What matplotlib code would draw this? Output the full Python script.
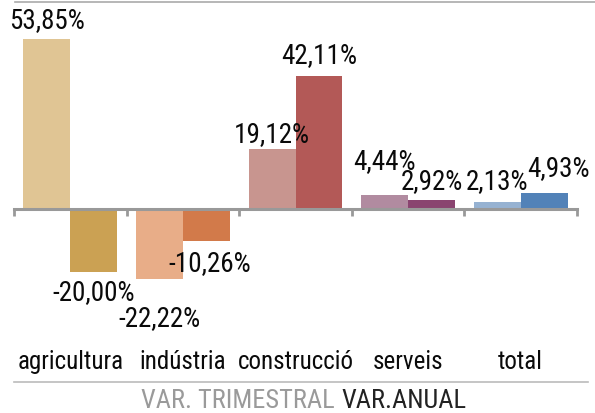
import matplotlib
matplotlib.use("Agg")
import matplotlib.pyplot as plt
from matplotlib.lines import Line2D

categories = ["agricultura", "indústria", "construcció", "serveis", "total"]
var_trimestral = [53.85, -22.22, 19.12, 4.44, 2.13]
var_anual = [-20.00, -10.26, 42.11, 2.92, 4.93]

colors_trim = ["#E0C594", "#E8AD88", "#C8958F", "#B18BA0", "#96B2D2"]
colors_anual = ["#CBA153", "#D27A4A", "#B35957", "#8A4470", "#5282B8"]

# label offsets in pixels from the end of each bar (dx, dy)
off_trim = [(0, 19), (0, -38), (0, 15), (0, 34), (0, 22)]
off_anual = [(0, -19), (3, -21), (0, 22), (0, 19), (14, 26)]

plt.rcParams["font.family"] = ["Roboto Condensed", "DejaVu Sans"]

W, H = 595, 414
fig = plt.figure(figsize=(W / 100, H / 100), dpi=100)

left, right, top, bottom = 14, 577, 3, 383
ax = fig.add_axes([left / W, 1 - bottom / H, (right - left) / W, (bottom - top) / H])

px_per_unit = 170 / 53.85
baseline = 210
ax.set_ylim(-(bottom - baseline) / px_per_unit, (baseline - top) / px_per_unit)
ax.set_xlim(-0.5, len(categories) - 0.5)

bw = 0.417
x = list(range(len(categories)))
bars_t = ax.bar([i - bw / 2 for i in x], var_trimestral, width=bw, color=colors_trim, zorder=2)
bars_a = ax.bar([i + bw / 2 for i in x], var_anual, width=bw, color=colors_anual, zorder=2)

def fmt(v):
    return f"{v:.2f}".replace(".", ",") + "%"

for bars, vals, offs in ((bars_t, var_trimestral, off_trim), (bars_a, var_anual, off_anual)):
    for b, v, (dx, dy) in zip(bars, vals, offs):
        ax.annotate(fmt(v), (b.get_x() + b.get_width() / 2, v),
                    xytext=(dx, dy), textcoords="offset pixels",
                    ha="center", va="center", fontsize=19.5, color="#0a0a0a",
                    zorder=3)

for s in ("top", "left", "right"):
    ax.spines[s].set_visible(False)
ax.spines["bottom"].set_position(("data", 0))
ax.spines["bottom"].set_color("#999999")
ax.spines["bottom"].set_linewidth(2.2)
ax.set_xticks([i - 0.5 for i in range(len(categories) + 1)])
ax.set_xticklabels([])
ax.tick_params(axis="x", direction="out", length=5, width=2, color="#999999")
ax.set_yticks([])
ax.patch.set_alpha(0)

# category names
for i, c in enumerate(categories):
    ax.text(i, -(362 - baseline) / px_per_unit, c, ha="center", va="center",
            fontsize=18, color="#0a0a0a")

# frame lines
fig.add_artist(Line2D([15 / W, 1.0], [1 - 3 / H, 1 - 3 / H], color="#aaaaaa", lw=1.2))
fig.add_artist(Line2D([14 / W, 588 / W], [1 - 383 / H, 1 - 383 / H], color="#bbbbbb", lw=1.2))

# legend line
fig.text(335 / W, 1 - 401 / H, "VAR. TRIMESTRAL", ha="right", va="center",
         fontsize=19, color="#9a9a9a")
fig.text(341 / W, 1 - 401 / H, "VAR.ANUAL", ha="left", va="center",
         fontsize=19, color="#222222")

fig.savefig("out.png", dpi=100)
